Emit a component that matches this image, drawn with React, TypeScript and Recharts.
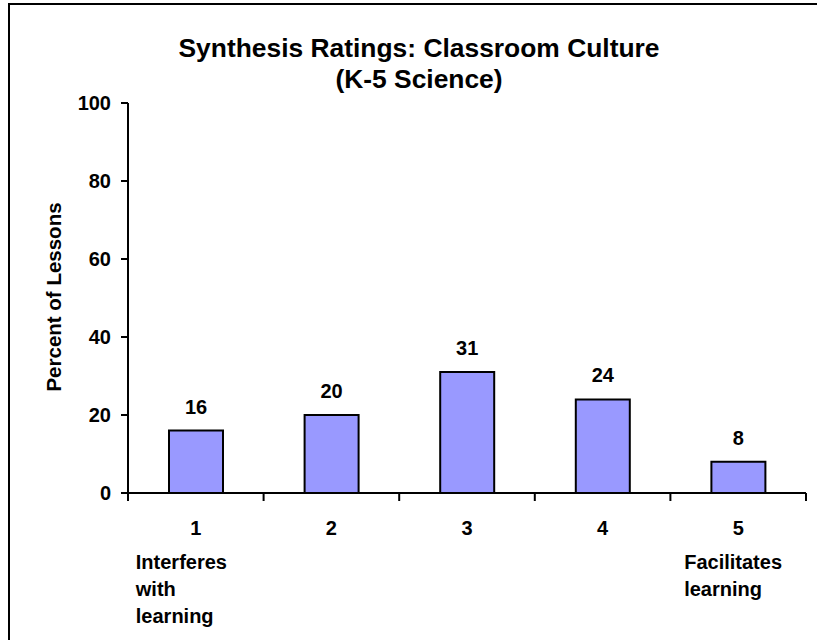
import React from 'react'
import { BarChart, Bar, XAxis, YAxis, LabelList } from 'recharts'

const categories = ['1', '2', '3', '4', '5']
const percents = [16, 20, 31, 24, 8]
const yTicks = [0, 20, 40, 60, 80, 100]
const lowNote = ['Interferes', 'with', 'learning']
const highNote = ['Facilitates', 'learning']
const titleLines = ['Synthesis Ratings: Classroom Culture', '(K-5 Science)']
const yLabel = 'Percent of Lessons'

const FONT = '"Liberation Sans", Arial, sans-serif'
const W = 807
const H = 635
const PLOT_LEFT = 118
const PLOT_RIGHT = 11
const PLOT_W = W - PLOT_LEFT - PLOT_RIGHT

const data = categories.map((c, i) => ({ rating: c, pct: percents[i] }))

const XTick = (props: any) => {
  const { x, y, payload, index } = props
  const half = PLOT_W / categories.length / 2
  const last = index === categories.length - 1
  const notes = index === 0 ? lowNote : last ? highNote : []
  return (
    <g>
      <line x1={x - half} x2={x - half} y1={y} y2={y + 8} stroke="#000" strokeWidth={2} />
      {last && <line x1={x + half} x2={x + half} y1={y} y2={y + 8} stroke="#000" strokeWidth={2} />}
      <text x={x} y={y + 42} textAnchor="middle" fontSize={20} fontWeight="bold" fontFamily={FONT} fill="#000">
        {payload.value}
      </text>
      {notes.map((n, i) => (
        <text key={n + i} x={x - (index === 0 ? 60 : 54)} y={y + 76 + i * 27} textAnchor="start"
          fontSize={20} fontWeight="bold" fontFamily={FONT} fill="#000">
          {n}
        </text>
      ))}
    </g>
  )
}

const ValueLabel = (props: any) => {
  const { x, y, width, value } = props
  return (
    <text x={x + width / 2} y={y - 17} textAnchor="middle" fontSize={20} fontWeight="bold" fontFamily={FONT} fill="#000">
      {value}
    </text>
  )
}

export default function App() {
  return (
    <div style={{ position: 'absolute', left: 8, top: 3, width: W, height: H, borderTop: '2px solid #000', borderLeft: '2px solid #000', background: '#fff' }}>
      <BarChart width={W} height={H} data={data} margin={{ top: 98, right: PLOT_RIGHT, bottom: 0, left: 0 }}>
        <XAxis dataKey="rating" height={147} tickLine={false} tickSize={0} tickMargin={0} tick={<XTick />}
          axisLine={{ stroke: '#000', strokeWidth: 2 }} interval={0} />
        <YAxis width={PLOT_LEFT} domain={[0, 100]} ticks={yTicks} tickSize={7} tickMargin={10}
          axisLine={{ stroke: '#000', strokeWidth: 2 }} tickLine={{ stroke: '#000', strokeWidth: 2 }}
          tick={{ fill: '#000', fontSize: 20, fontWeight: 'bold', fontFamily: FONT }} />
        <Bar dataKey="pct" fill="#9999FF" stroke="#000" strokeWidth={2} barSize={54} isAnimationActive={false}>
          <LabelList dataKey="pct" content={<ValueLabel />} />
        </Bar>
      </BarChart>
      <svg width={W} height={H} style={{ position: 'absolute', left: 0, top: 0, pointerEvents: 'none' }}>
        {titleLines.map((t, i) => (
          <text key={t} x={409} y={52 + i * 31} textAnchor="middle" fontSize={26.4} fontWeight="bold" fontFamily={FONT} fill="#000">
            {t}
          </text>
        ))}
        <text transform="translate(51, 292) rotate(-90)" textAnchor="middle" fontSize={20.5} fontWeight="bold" fontFamily={FONT} fill="#000">
          {yLabel}
        </text>
      </svg>
    </div>
  )
}
